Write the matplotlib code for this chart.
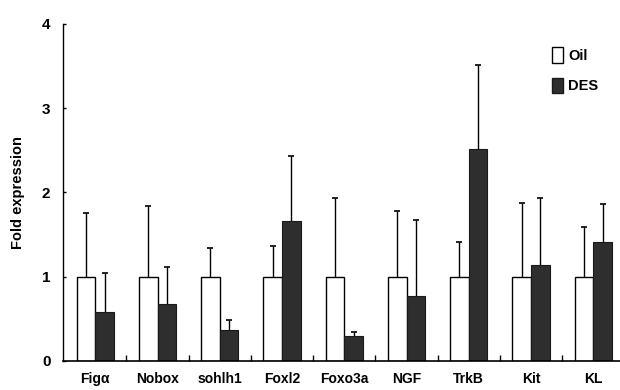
import numpy as np
import matplotlib.pyplot as plt
from matplotlib.patches import Patch

plt.rcParams['font.family'] = ['Liberation Sans', 'DejaVu Sans']
plt.rcParams['font.weight'] = 'bold'

# Data
genes = ['Figα', 'Nobox', 'sohlh1', 'Foxl2', 'Foxo3a', 'NGF', 'TrkB', 'Kit', 'KL']
oil = [1, 1, 1, 1, 1, 1, 1, 1, 1]
oil_top = [1.75, 1.84, 1.34, 1.36, 1.93, 1.78, 1.41, 1.87, 1.59]
des = [0.58, 0.68, 0.37, 1.66, 0.30, 0.77, 2.51, 1.14, 1.41]
des_top = [1.04, 1.11, 0.49, 2.43, 0.34, 1.67, 3.51, 1.93, 1.86]

oil_err = np.array(oil_top) - np.array(oil)
des_err = np.array(des_top) - np.array(des)

fig = plt.figure(figsize=(6.2, 3.9), dpi=100)
ax = fig.add_axes([0.1016, 0.0744, 0.8984, 0.8646])

x = np.arange(len(genes))
w = 0.3

# upper error bars only: stems without caps, then a cap marker at the top
for pos, vals, err, top in [(x - w / 2, oil, oil_err, oil_top),
                            (x + w / 2, des, des_err, des_top)]:
    ax.errorbar(pos, vals, yerr=[np.zeros(len(x)), err], fmt='none',
                ecolor='black', elinewidth=1.0, capsize=0, zorder=1)
    ax.plot(pos, top, ls='none', marker='_', markersize=5, mew=1.2,
            color='black', zorder=1)

ax.bar(x - w / 2, oil, w, color='white', edgecolor='black', linewidth=1.0, zorder=2)
ax.bar(x + w / 2, des, w, color='#2e2e2e', edgecolor='#1a1a1a', linewidth=0.8, zorder=2)

ax.set_xlim(-0.52, 8.43)
ax.set_ylim(0, 4)
ax.spines['top'].set_visible(False)
ax.spines['right'].set_visible(False)
ax.spines['left'].set_linewidth(1.0)
ax.spines['bottom'].set_linewidth(1.2)
ax.spines['bottom'].set_zorder(3)

ax.set_yticks([0, 1, 2, 3, 4])
ax.set_yticklabels(['0', '1', '2', '3', '4'], fontsize=11, fontweight='bold')
ax.tick_params(axis='y', direction='in', length=2, width=1, pad=9)

ax.set_xticks(x)
ax.set_xticklabels(genes, fontsize=10, fontweight='bold')
ax.tick_params(axis='x', which='major', length=0, pad=8)
ax.set_xticks(x[:-1] + 0.5, minor=True)
ax.tick_params(axis='x', which='minor', direction='in', length=4, width=1)

ax.set_ylabel('Fold expression', fontsize=10.5, fontweight='bold', labelpad=12)

handles = [Patch(facecolor='white', edgecolor='black', linewidth=1.0),
           Patch(facecolor='#2e2e2e', edgecolor='#1a1a1a')]
ax.legend(handles, ['Oil', 'DES'], loc='upper right', bbox_to_anchor=(0.985, 0.97),
          frameon=False, handlelength=0.7, handleheight=1.3, handletextpad=0.4,
          labelspacing=1.0, prop={'weight': 'bold', 'size': 10.5})

fig.savefig('out.png', dpi=100)
